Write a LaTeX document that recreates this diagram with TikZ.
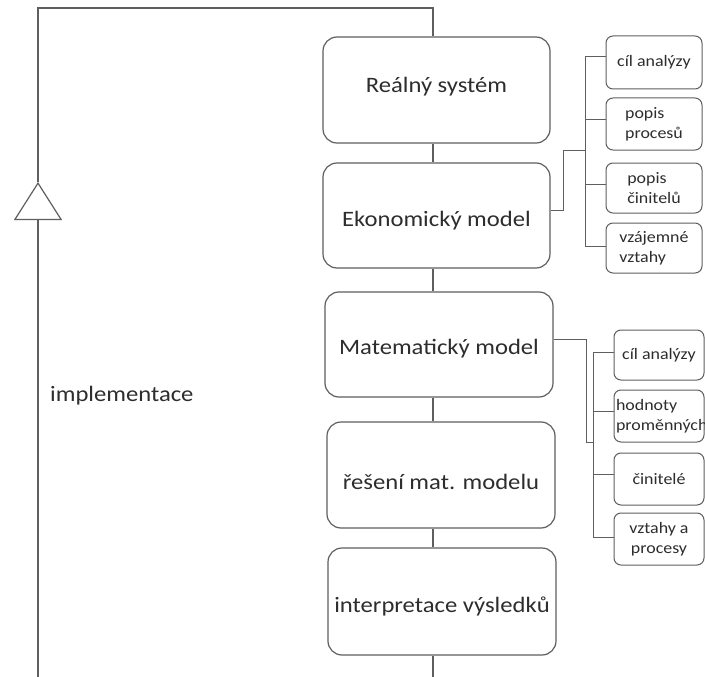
\documentclass[tikz,border=0pt]{standalone}
\usepackage{fontspec}
\setmainfont{Carlito}[FakeStretch=1.12]
\usetikzlibrary{arrows.meta}
\definecolor{lc}{RGB}{95,95,95}
\definecolor{tc}{RGB}{45,45,45}
\newcommand\mvtext[2]{\raisebox{#1}[\height][\depth]{#2}}
\tikzset{
  line/.style={draw=lc, line width=1.2pt},
  thin line/.style={draw=lc, line width=1pt},
  mainbox/.style={line, rounded corners=14pt, minimum width=227pt, minimum height=106pt,
    font=\fontsize{22}{26}\selectfont, text=tc, inner sep=0pt},
  smallbox/.style={thin line, rounded corners=7pt, minimum width=96pt,
    font=\fontsize{16}{20}\selectfont, text=tc, inner sep=2pt, align=center},
  plainlabel/.style={font=\fontsize{22}{26}\selectfont, text=tc, inner sep=0pt},
}
\begin{document}
\begin{tikzpicture}[x=1pt,y=-1pt]
\useasboundingbox (0,0) rectangle (705,677);
\fill[white] (0,0) rectangle (705,677);

% main chain
\node[mainbox] (B1) at (436.5,90) {\mvtext{3pt}{Reálný systém}};
\node[mainbox, minimum height=105pt] (B2) at (436.5,215.5) {\mvtext{-5pt}{Ekonomický model}};
\node[mainbox, minimum width=228pt, minimum height=105pt] (B3) at (439,344.5) {\mvtext{-4pt}{Matematický model}};
\node[mainbox, minimum width=228pt] (B4) at (441,475) {\mvtext{-7pt}{řešení mat. modelu}};
\node[mainbox, minimum width=228pt, minimum height=107pt] (B5) at (442,601.5) {\mvtext{-5pt}{interpretace výsledků}};

\node[plainlabel, anchor=west] (impl) at (50,396) {implementace};

% spine and feedback loop
\coordinate (sp) at (433,8);
\coordinate (corner) at (38,8);
\coordinate (tip) at (38,182);
\coordinate (bot) at (38,677);
\coordinate (sb) at (433,677);
\draw[line, -{Triangle[open, length=38pt, width=48pt, line width=1.2pt]}] (bot) -- (tip);
\draw[line] (tip) -- (corner) -- (sp) -- (B1.north -| sp);
\draw[line] (B1.south -| sp) -- (B2.north -| sp);
\draw[line] (B2.south -| sp) -- (B3.north -| sp);
\draw[line] (B3.south -| sp) -- (B4.north -| sp);
\draw[line] (B4.south -| sp) -- (B5.north -| sp);
\draw[line] (B5.south -| sp) -- (sb);

% top group
\node[smallbox, minimum height=53pt] (S1) at (654,62.5) {cíl analýzy};
\node[smallbox, minimum height=52pt, align=left] (S2) at (654,124) {popis\\procesů};
\node[smallbox, minimum height=50pt, align=left] (S3) at (654,188) {popis\\činitelů};
\node[smallbox, minimum height=50pt, align=left] (S4) at (654,248) {vzájemné\\vztahy};
\coordinate (ba) at (585,0);
\coordinate (e1) at (563,150);
\draw[thin line] ([yshift=6pt]S1.west -| ba) -- ([yshift=2pt]S4.west -| ba);
\draw[thin line] ([yshift=6pt]S1.west) -- ([yshift=6pt]S1.west -| ba);
\draw[thin line] ([yshift=4pt]S2.west) -- ([yshift=4pt]S2.west -| ba);
\draw[thin line] ([yshift=4pt]S3.west) -- ([yshift=4pt]S3.west -| ba);
\draw[thin line] ([yshift=2pt]S4.west) -- ([yshift=2pt]S4.west -| ba);
\draw[thin line] ([yshift=5pt]B2.east) -| (e1) -- (e1 -| ba);

% bottom group
\node[smallbox, minimum width=90pt, minimum height=50pt] (T1) at (659,355) {cíl analýzy};
\node[smallbox, minimum width=90pt, minimum height=52pt, text width=86pt, align=left] (T2) at (659,416) {hodnoty\\\mbox{proměnných}};
\node[smallbox, minimum width=90pt, minimum height=52pt] (T3) at (659,479) {činitelé};
\node[smallbox, minimum width=90pt, minimum height=52pt] (T4) at (659,539) {vztahy a\\procesy};
\coordinate (bb) at (593,0);
\coordinate (e2) at (586,442);
\draw[thin line] ([yshift=3pt]T1.west -| bb) -- ([yshift=2pt]T4.west -| bb);
\draw[thin line] ([yshift=3pt]T1.west) -- ([yshift=3pt]T1.west -| bb);
\draw[thin line] ([yshift=5pt]T2.west) -- ([yshift=5pt]T2.west -| bb);
\draw[thin line] ([yshift=5pt]T3.west) -- ([yshift=5pt]T3.west -| bb);
\draw[thin line] ([yshift=2pt]T4.west) -- ([yshift=2pt]T4.west -| bb);
\draw[thin line] ([yshift=5.5pt]B3.east) -| (e2) -- (e2 -| bb);
\end{tikzpicture}
\end{document}
